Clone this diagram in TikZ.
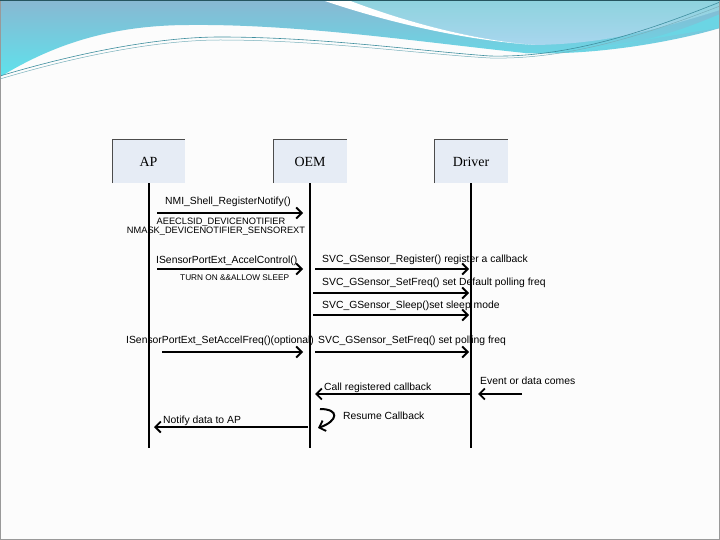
\documentclass[tikz,border=0pt]{standalone}
\usepackage{fontspec}
\setmainfont{Liberation Serif}
\setsansfont{Liberation Sans}
\usetikzlibrary{arrows.meta}
\definecolor{boxfill}{HTML}{E6ECF5}
\definecolor{bandtop}{HTML}{88B8D2}
\definecolor{bandbot}{HTML}{5EE2EC}
\definecolor{paletop}{HTML}{8ED3DE}
\definecolor{palebot}{HTML}{A8D6EE}
\definecolor{wline}{HTML}{3E8E9E}
\tikzset{
  actor/.style={fill=boxfill, minimum width=73bp, minimum height=43bp, inner sep=0pt, font=\rmfamily\fontsize{14}{14}\selectfont},
  life/.style={line width=2bp, black},
  msg/.style={line width=2bp, black, -{Straight Barb[length=5.5bp,width=11bp,line width=1.8bp]}},
  lbl/.style={font=\sffamily\fontsize{10.4}{10.4}\selectfont, inner sep=0pt, text=black},
  lblsm/.style={lbl, font=\sffamily\fontsize{9.3}{9.3}\selectfont},
}
\begin{document}
\begin{tikzpicture}[x=1bp,y=-1bp]
\useasboundingbox (0,0) rectangle (720,540);
% background
\fill[white!98!gray] (0,0) rectangle (720,540);
% banner base
\shade[top color=bandtop, bottom color=bandbot]
  (0,0) -- (720,0) -- (720,28) .. controls (680,40) and (600,56) .. (525,53)
  .. controls (420,42) and (300,24) .. (190,25) .. controls (120,25) and (60,40) .. (0,77) -- cycle;
\fill[bandbot!70!bandtop] (720,14) .. controls (660,40) and (600,54) .. (525,53)
  .. controls (600,50) and (670,35) .. (720,28) -- cycle;
% pale top-right region
\shade[top color=paletop, bottom color=palebot]
  (348,0) -- (720,0) -- (720,10) .. controls (650,32) and (600,44) .. (535,45)
  .. controls (470,40) and (400,20) .. (348,0) -- cycle;
% white stripe
\fill[white] (322,0) -- (348,0) .. controls (400,20) and (470,40) .. (535,45)
  .. controls (460,40) and (380,20) .. (322,0) -- cycle;
% thin lines
\draw[wline, line width=0.6bp] (0,76) .. controls (80,52) and (160,37) .. (220,37)
  .. controls (320,37) and (420,51) .. (490,56) .. controls (570,58) and (650,30) .. (720,2);
\draw[wline!70!white, line width=0.5bp] (0,79) .. controls (80,55) and (160,40) .. (220,40)
  .. controls (320,40) and (420,54) .. (490,58) .. controls (570,60) and (650,33) .. (720,6);
% frame
\draw[gray!80, line width=1bp] (0.5,0.5) rectangle (719.5,539.5);
\draw[wline!60!black, line width=1bp] (0,0.5) -- (720,0.5);

% actors
\node[actor] (ap) at (148.5,161.5) {AP};
\node[actor] (oem) at (310,161.5) {OEM};
\node[actor] (drv) at (471,161.5) {Driver};
\foreach \n in {ap,oem,drv}{
  \draw[gray!60!black, line width=0.6bp] (\n.south west) -- (\n.north west) -- (\n.north east);
}
% lifelines
\coordinate (apE) at (148.5,448);
\coordinate (oemE) at (310,448);
\coordinate (drvE) at (471,448);
\draw[life] (ap.south) -- (apE);
\draw[life] (oem.south) -- (oemE);
\draw[life] (drv.south) -- (drvE);

% message end points
\coordinate (m1a) at (157,213); \coordinate (m1b) at (303,213);
\coordinate (m2a) at (157,269); \coordinate (m2b) at (303,269);
\coordinate (m3a) at (315,269); \coordinate (m3b) at (469,269);
\coordinate (m4a) at (313,293); \coordinate (m4b) at (469,293);
\coordinate (m5a) at (313,315); \coordinate (m5b) at (469,315);
\coordinate (m6a) at (162,352); \coordinate (m6b) at (303,352);
\coordinate (m7a) at (315,352); \coordinate (m7b) at (469,352);
\coordinate (m8a) at (471,394); \coordinate (m8b) at (315,394);
\coordinate (m9a) at (522,394); \coordinate (m9b) at (478,394);
\coordinate (r1) at (320,409); \coordinate (r2) at (318,428);
\coordinate (m10a) at (308,427); \coordinate (m10b) at (154,427);

\draw[msg] (m1a) -- (m1b);
\draw[msg] (m2a) -- (m2b);
\draw[msg] (m3a) -- (m3b);
\draw[msg] (m4a) -- (m4b);
\draw[msg] (m5a) -- (m5b);
\draw[msg] (m6a) -- (m6b);
\draw[msg] (m7a) -- (m7b);
\draw[msg] (m8a) -- (m8b);
\draw[msg] (m9a) -- (m9b);
\draw[msg] (r1) .. controls (340,409) and (338,421) .. (r2);
\draw[msg] (m10a) -- (m10b);

% labels
\node[lbl, anchor=west] (t1) at (165,202) {NMI\_Shell\_RegisterNotify()};
\node[lblsm] (t1b) at (221,222) {AEECLSID\_DEVICENOTIFIER};
\node[lblsm] (t1c) at (216,231) {NMASK\_DEVICENOTIFIER\_SENSOREXT};
\node[lbl, anchor=west] (t2) at (156,261) {ISensorPortExt\_AccelControl()};
\node[lbl, anchor=west, font=\sffamily\fontsize{8.3}{8.3}\selectfont] (t2b) at (180,278) {TURN ON \&\&ALLOW SLEEP};
\node[lbl, anchor=west] (t3) at (322,260) {SVC\_GSensor\_Register() register a callback};
\node[lbl, anchor=west] (t4) at (322,283) {SVC\_GSensor\_SetFreq() set Default polling freq};
\node[lbl, anchor=west] (t5) at (322,306) {SVC\_GSensor\_Sleep()set sleep mode};
\node[lbl, anchor=west] (t6) at (126,341) {ISensorPortExt\_SetAccelFreq()(optional)};
\node[lbl, anchor=west] (t7) at (318,341) {SVC\_GSensor\_SetFreq() set polling freq};
\node[lbl, anchor=west] (t8) at (324,388) {Call registered callback};
\node[lbl, anchor=west] (t9) at (480,381) {Event or data comes};
\node[lbl, anchor=west] (t10) at (343,416) {Resume Callback};
\node[lbl, anchor=west] (t11) at (163,421) {Notify data to AP};
\end{tikzpicture}
\end{document}
